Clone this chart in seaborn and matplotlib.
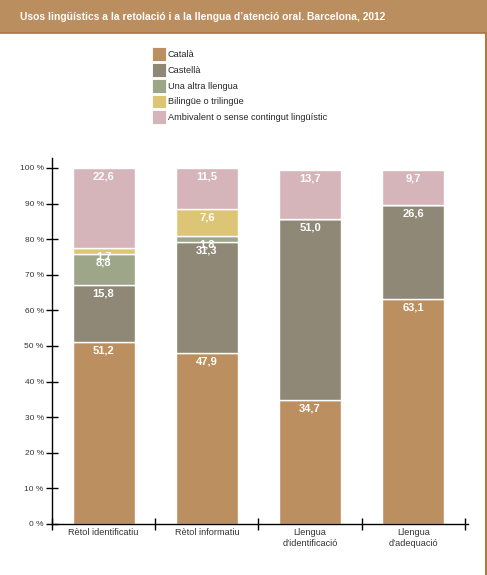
import matplotlib
matplotlib.use("Agg")
import matplotlib.pyplot as plt
import seaborn as sns
import numpy as np
import pandas as pd
from matplotlib.patches import Patch, Rectangle
from matplotlib.lines import Line2D

sns.set_theme(style="white")
plt.rcParams['font.family'] = ['Liberation Sans', 'DejaVu Sans']

# --- data ---
categories = ["Rètol identificatiu", "Rètol informatiu",
              "Llengua\nd’identificació", "Llengua\nd’adequació"]
series_names = ["Català", "Castellà", "Una altra llengua",
                "Bilingüe o trilingüe", "Ambivalent o sense contingut lingüístic"]
catala = [51.2, 47.9, 34.7, 63.1]
castella = [15.8, 31.3, 51.0, 26.6]
altra = [8.8, 1.8, 0.0, 0.0]
bilingue = [1.7, 7.6, 0.0, 0.0]
ambivalent = [22.6, 11.5, 13.7, 9.7]
yticks = [0, 10, 20, 30, 40, 50, 60, 70, 80, 90, 100]

colors = ["#bc8f60", "#8f8876", "#9da689", "#dcc676", "#d5b5ba"]
header_color = "#bb8e60"

series = [catala, castella, altra, bilingue, ambivalent]

fig = plt.figure(figsize=(4.87, 5.75), dpi=100)
ax = fig.add_axes([52 / 487, 1 - 524 / 575, 416 / 487, 366 / 575])

# header band
fig.add_artist(Rectangle((0, 1 - 33 / 575), 1, 33 / 575, transform=fig.transFigure,
                         facecolor=header_color, edgecolor="none", zorder=0))
fig.add_artist(Line2D([0, 1], [1 - 33 / 575, 1 - 33 / 575], transform=fig.transFigure,
                      color="#a8773f", linewidth=1.2))
fig.add_artist(Line2D([485.5 / 487, 485.5 / 487], [0, 1 - 33 / 575], transform=fig.transFigure,
                      color="#b07a42", linewidth=1.5))
fig.text(20 / 487, 1 - 17 / 575,
         "Usos lingüístics a la retolació i a la llengua d’atenció oral. Barcelona, 2012",
         color="white", fontsize=7.35, fontweight="bold", va="center", ha="left")

# stacked bars
bottom = np.zeros(len(categories))
for name, vals, col in zip(series_names, series, colors):
    df = pd.DataFrame({"cat": categories, "val": vals})
    sns.barplot(data=df, x="cat", y="val", color=col, width=0.6, bottom=bottom,
                edgecolor="white", linewidth=1, saturation=1, ax=ax)
    for i, v in enumerate(vals):
        if v > 0:
            ax.annotate(f"{v:.1f}".replace(".", ","), (i, bottom[i] + v),
                        xytext=(0, -2.5), textcoords="offset points",
                        ha="center", va="top", color="white",
                        fontsize=8, fontweight="bold")
    bottom = bottom + np.array(vals)

ax.set_xlim(-0.5, 3.53)
ax.set_ylim(0, 102.8)
ax.set_xlabel("")
ax.set_ylabel("")

ax.set_yticks(yticks)
ax.set_yticklabels([f"{t} %" for t in yticks])
ax.tick_params(axis="y", left=True, direction="inout", length=8, width=1, color="black",
               labelsize=6, labelcolor="#333333", pad=2)

ax.set_xticks(range(len(categories)))
ax.set_xticklabels(categories)
ax.set_xticks([-0.5, 0.5, 1.5, 2.5, 3.5], minor=True)
ax.tick_params(axis="x", which="major", bottom=False, length=0, labelsize=6.6,
               labelcolor="#333333", pad=3)
ax.tick_params(axis="x", which="minor", bottom=True, direction="inout", length=9,
               width=1, color="black")

for s in ["top", "right"]:
    ax.spines[s].set_visible(False)
for s in ["left", "bottom"]:
    ax.spines[s].set_color("black")
    ax.spines[s].set_linewidth(1)
ax.grid(False)

handles = [Patch(facecolor=c, edgecolor="white", linewidth=0.6) for c in colors]
fig.legend(handles, series_names, loc="upper left",
           bbox_to_anchor=(151.5 / 487, 1 - 47.5 / 575), frameon=False,
           fontsize=6.6, handlelength=1.55, handleheight=1.95, labelspacing=0.2,
           handletextpad=0.25, borderpad=0, borderaxespad=0)

fig.savefig("out.png", dpi=100)
